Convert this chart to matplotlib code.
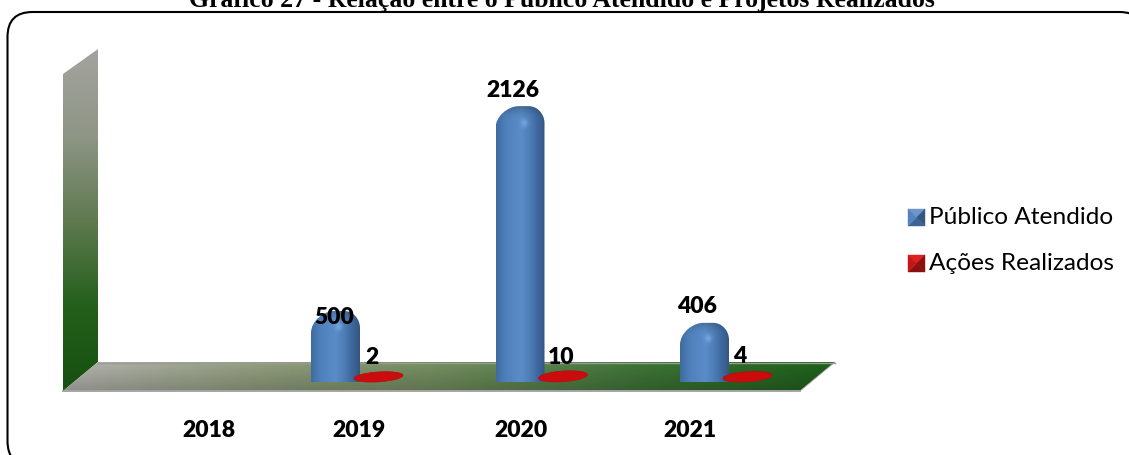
import numpy as np
import matplotlib
matplotlib.use('Agg')
import matplotlib.pyplot as plt
from matplotlib.colors import LinearSegmentedColormap
from matplotlib.patches import FancyBboxPatch, PathPatch, Polygon
from matplotlib.path import Path

years = ['2018', '2019', '2020', '2021']
publico = [None, 500, 2126, 406]
acoes = [None, 2, 10, 4]
series_names = ['Público Atendido', 'Ações Realizados']
title = 'Gráfico 27 - Relação entre o Público Atendido e Projetos Realizados'

W, H = 1129, 456
PX_X = 184.5    # pixels per category
PX_Y = 0.126    # pixels per unit
X0, Y0 = 151, 375   # pixel of category 0, value 0


def gradient(ax, poly_path, img, extent, zorder):
    im = ax.imshow(img, extent=extent, aspect='auto', origin='upper', zorder=zorder,
                   interpolation='bilinear')
    clip = PathPatch(poly_path, transform=ax.transData, fc='none', ec='none')
    ax.add_patch(clip)
    im.set_clip_path(clip)
    return im


def stops(colors, n):
    cm = LinearSegmentedColormap.from_list('g', colors)
    return cm(np.linspace(0, 1, n))[:, :3]


def round_bar(x, top, half, bottom, ry_l, ry_r):
    # shoulder is a bit wider on the left than on the right
    k = 0.45
    rx_l, rx_r = half * 0.95, half * 0.65
    verts = [(x - half, bottom), (x - half, top - ry_l),
             (x - half, top - ry_l * k), (x - half + rx_l * (1 - k), top), (x - half + rx_l, top),
             (x + half - rx_r, top),
             (x + half - rx_r * k, top), (x + half, top - ry_r * k), (x + half, top - ry_r),
             (x + half, bottom), (x - half, bottom)]
    codes = [Path.MOVETO, Path.LINETO, Path.CURVE4, Path.CURVE4, Path.CURVE4, Path.LINETO,
             Path.CURVE4, Path.CURVE4, Path.CURVE4, Path.LINETO, Path.CLOSEPOLY]
    return Path(verts, codes)


def slanted_ellipse(x, half, bottom, top):
    t = np.linspace(0, 2 * np.pi, 80)
    ex = np.cos(t)
    ey = np.sin(t) * 0.8 + ex * 0.25
    cy = (top + bottom) / 2
    ry = (top - bottom) / 2
    return Path(np.column_stack([x + half * ex, cy + ry * ey]))


fig = plt.figure(figsize=(W / 100, H / 100), dpi=100, facecolor='white')
bg = fig.add_axes([0, 0, 1, 1])
bg.set_xlim(0, W)
bg.set_ylim(H, 0)
bg.axis('off')

# chart frame, its right and bottom sides run off the image in the original
bg.add_patch(FancyBboxPatch((7.5, 13), 1137, 454, boxstyle='round,pad=0,rounding_size=25',
                            fc='white', ec='black', lw=1.5, zorder=1))

# side wall
wall = Path([(63, 75), (98, 50), (98, 363), (63, 392), (63, 75)])
wall_col = stops(['#a3a39f', '#8f9686', '#607a50', '#24601c', '#175010'], 200)[:, None, :]
gradient(bg, wall, wall_col, (63, 98, 392, 50), 2)

# floor
floor = Path([(63, 392), (98, 363), (835, 363), (800, 392), (63, 392)])
fl = stops(['#b0b0ab', '#8f9a7c', '#6f8a5c', '#3d7236', '#1d5f1a'], 300)[None, :, :]
shade = np.linspace(1.03, 0.82, 30)[:, None, None]
gradient(bg, floor, np.clip(fl * shade, 0, 1), (63, 835, 392, 363), 2)
bg.plot([98, 835], [363.5, 363.5], color='#9a9a96', lw=1, zorder=3)
bg.plot([63, 800], [392, 392], color='#a5a5a5', lw=1.4, zorder=3)
bg.plot([800, 835], [392, 363], color='#a5a5a5', lw=0.6, zorder=3)

# data axes over the chart area
ax = fig.add_axes([63 / W, 1 - 392 / H, (800 - 63) / W, (392 - 50) / H])
ax.patch.set_alpha(0)
ax.axis('off')
xlim = ((63 - X0) / PX_X, (800 - X0) / PX_X)
ylim = ((Y0 - 392) / PX_Y, (Y0 - 50) / PX_Y)

half = 24.5 / PX_X
blue_row = stops(['#3f6c9f', '#4c7fb8', '#5586c2', '#5a8cc8', '#4f7fb8', '#3f6a9f', '#34567f'], 60)
for i, v in enumerate(publico):
    if v is None:
        continue
    bottom = -64
    path = round_bar(i, v, half, bottom, 22 / PX_Y, 17 / PX_Y)
    n = 120
    ys = np.linspace(v, bottom, n)
    depth = (v - ys) * PX_Y
    cap = np.clip(1 - depth / 14, 0, 1)[:, None, None]
    img = blue_row[None, :, :] * (1 - 0.22 * cap ** 2)
    # soft highlight on the shoulder
    xs = np.linspace(-1, 1, 60)
    glow = np.exp(-((xs - 0.14) / 0.14) ** 2)[None, :] * np.exp(-((depth - 16) / 4) ** 2)[:, None]
    img = np.clip(img + glow[:, :, None] * 0.12, 0, 1)
    gradient(ax, path, img, (i - half, i + half, bottom, v), 4)

red_half = 24.5 / PX_X
red_offset = 43 / PX_X
for i, v in enumerate(acoes):
    if v is None:
        continue
    path = slanted_ellipse(i + red_offset, red_half, -72, 24 + v)
    ax.add_patch(PathPatch(path, fc='#cc0c0c', ec='#b01010', lw=0.5, zorder=5))

ax.set_xlim(*xlim)
ax.set_ylim(*ylim)

# value labels, nudged by hand like the original
lab_kw = dict(family='Lato', weight='heavy', fontsize=16.5, color='black', ha='center',
              va='center', zorder=8, textcoords='offset pixels', xycoords='data')
blue_nudge = [None, (-1, -5), (-7, 17), (-8, 17)]
for i, v in enumerate(publico):
    if v is not None:
        ax.annotate(str(v), (i, v), xytext=blue_nudge[i], **lab_kw)
red_nudge = [None, (-6, 17), (-2, 17), (-8, 18)]
for i, v in enumerate(acoes):
    if v is not None:
        ax.annotate(str(v), (i + red_offset, 0), xytext=red_nudge[i], **lab_kw)

# category labels sit on their own positions in the original
for name, px in zip(years, [209, 359, 521, 690]):
    bg.text(px, 431, name, family='Lato', weight='heavy', fontsize=16.5, ha='center',
            va='center', zorder=8)

# the original title is clipped by the top of the image
bg.text(562, 7, title, family='Liberation Serif', weight='bold', fontsize=18.5,
        ha='center', va='baseline', zorder=9)


def bevel_key(x0, y0, size, cols):
    x1, y1 = x0 + size, y0 + size
    c = (x0 + size / 2, y0 + size / 2)
    tris = [[(x0, y0), (x1, y0), c], [(x1, y0), (x1, y1), c],
            [(x1, y1), (x0, y1), c], [(x0, y1), (x0, y0), c]]
    for t, col in zip(tris, cols):
        bg.add_patch(Polygon(t, closed=True, fc=col, ec=col, lw=0.3, zorder=6))


key_cols = [['#6d97cc', '#35577f', '#3c6496', '#5584bd'],
            ['#e02020', '#8e0f0f', '#8a1010', '#c41616']]
for name, cols, y in zip(series_names, key_cols, [218, 264]):
    bevel_key(908, y - 8, 17, cols)
    bg.text(929, y, name, family='Lato', fontsize=17.6, ha='left', va='center', zorder=8)

fig.savefig('out.png', dpi=100, facecolor='white')
